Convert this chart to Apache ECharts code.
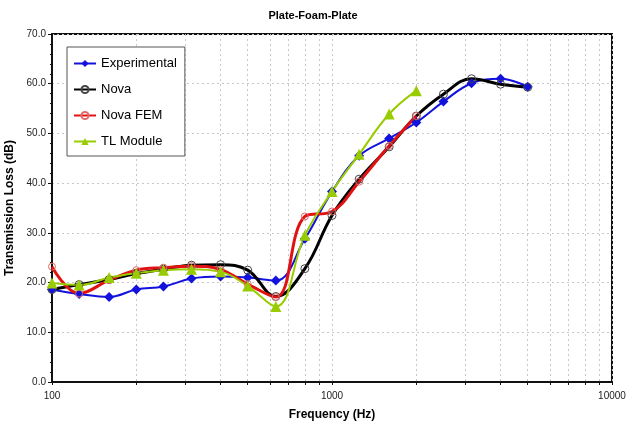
<!DOCTYPE html>
<html>
<head>
<meta charset="utf-8">
<script src="https://cdn.jsdelivr.net/npm/echarts@6/dist/echarts.min.js"></script>
<style>html,body{margin:0;padding:0;background:#fff}#c{width:626px;height:426px}</style>
</head>
<body>
<div id="c"></div>
<script>
const freq = [100,125,160,200,250,315,400,500,630,800,1000,1250,1600,2000,2500,3150,4000,5000];
const experimental = [18.6,17.7,17.1,18.6,19.2,20.8,21.2,21.0,20.4,28.8,38.3,45.5,49.0,52.2,56.4,60.1,61.0,59.4];
const nova = [18.6,19.6,20.6,21.8,22.7,23.5,23.6,22.5,17.2,22.8,33.5,40.8,47.3,53.5,57.9,61.0,59.9,59.3];
const novaFem = [23.2,17.8,20.5,22.5,23.0,23.3,22.6,19.7,17.1,33.3,34.3,40.3,47.5,53.5];
const tlModule = [19.9,19.5,21.0,21.9,22.5,22.7,22.2,19.3,15.2,29.5,38.3,45.8,53.9,58.6];
const xTickValues = [100,200,300,400,500,600,700,800,900,1000,2000,3000,4000,5000,6000,7000,8000,9000,10000];
const xLabelValues = [100,1000,10000];

function pairs(vals){ return vals.map((v,i)=>[freq[i], v]); }

const chart = echarts.init(document.getElementById('c'));
const font = 'Liberation Sans, Arial, sans-serif';
chart.setOption({
  animation:false,
  backgroundColor:'#fff',
  title:{text:'Plate-Foam-Plate',left:'center',top:10,padding:0,
    textStyle:{fontFamily:font,fontSize:11,fontWeight:'bold',color:'#000'}},
  grid:{left:52,right:14,top:34,bottom:44,outerBoundsMode:'none',containLabel:false,
    show:true,borderColor:'#111',borderWidth:2,backgroundColor:'transparent'},
  legend:{orient:'vertical',left:67,top:47,padding:[10,8,8,6],itemGap:13,itemWidth:22,itemHeight:9,
    borderColor:'#555',borderWidth:1,backgroundColor:'#fff',
    textStyle:{fontFamily:font,fontSize:13,color:'#000'},
    data:['Experimental','Nova','Nova FEM','TL Module']},
  xAxis:{type:'log',logBase:10,min:100,max:10000,
    name:'Frequency (Hz)',nameLocation:'middle',nameGap:27,
    nameTextStyle:{fontFamily:font,fontSize:12,fontWeight:'bold',color:'#000'},
    axisLine:{lineStyle:{color:'#111',width:2}},
    axisTick:{show:true,customValues:xTickValues,length:3,inside:false,lineStyle:{color:'#111'}},
    axisLabel:{customValues:xLabelValues,fontFamily:font,fontSize:10,color:'#222',margin:9,
      formatter:v=>String(Math.round(v))},
    splitLine:{show:true,lineStyle:{color:'#c8c8c8',type:[2,3],width:1}}},
  yAxis:{type:'value',min:0,max:70,interval:10,
    name:'Transmission Loss (dB)',nameLocation:'middle',nameGap:32,
    nameTextStyle:{fontFamily:font,fontSize:12,fontWeight:'bold',color:'#000'},
    axisLine:{show:true,lineStyle:{color:'#111',width:2}},
    axisTick:{show:true,length:4,lineStyle:{color:'#111'}},
    minorTick:{show:true,splitNumber:5,length:2,lineStyle:{color:'#111'}},
    axisLabel:{fontFamily:font,fontSize:10,color:'#222',margin:6,formatter:v=>v.toFixed(1)},
    splitLine:{show:true,lineStyle:{color:'#c8c8c8',type:[2,3],width:1}}},
  series:[
    {name:'Experimental',type:'line',smooth:0.4,data:pairs(experimental),
      symbol:'diamond',symbolSize:10,lineStyle:{color:'#1212dc',width:2},
      itemStyle:{color:'#1212dc'}},
    {name:'Nova',type:'line',smooth:0.4,data:pairs(nova),
      symbol:'circle',symbolSize:8,lineStyle:{color:'#000',width:3},
      itemStyle:{color:'rgba(255,255,255,0)',borderColor:'#444',borderWidth:1}},
    {name:'Nova FEM',type:'line',smooth:0.4,data:pairs(novaFem),
      symbol:'circle',symbolSize:7,lineStyle:{color:'#e01212',width:3},
      itemStyle:{color:'rgba(255,255,255,0)',borderColor:'#e06a6a',borderWidth:1}},
    {name:'TL Module',type:'line',smooth:0.4,data:pairs(tlModule),
      symbol:'triangle',symbolSize:11,lineStyle:{color:'#99cc00',width:2},
      itemStyle:{color:'#99cc00'}}
  ]
});
</script>
</body>
</html>
